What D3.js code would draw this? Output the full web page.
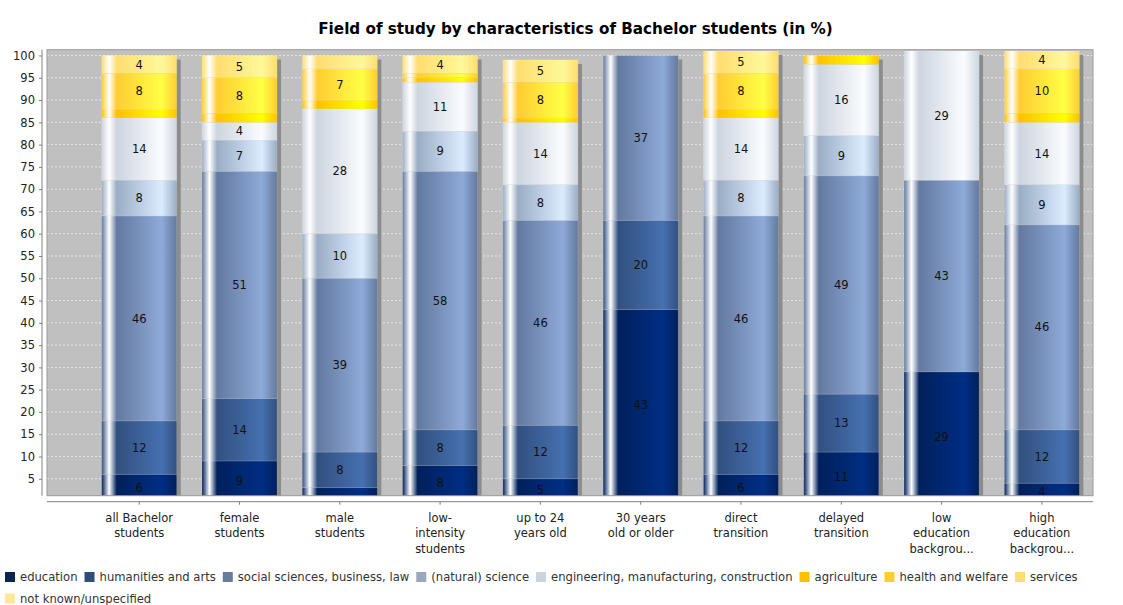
<!DOCTYPE html>
<html><head><meta charset="utf-8">
<script src="https://cdn.jsdelivr.net/npm/d3@7"></script>
<style>body{margin:0;background:#fff;} svg{display:block;font-family:"DejaVu Sans",sans-serif;}</style>
</head><body><svg id="c" width="1123" height="605"></svg>
<script>
const title = "Field of study by characteristics of Bachelor students (in %)";
const categories = ["all Bachelor students","female students","male students","low-intensity students","up to 24 years old","30 years old or older","direct transition","delayed transition","low education background","high education background"];
const categoryLabels = [["all Bachelor","students"],["female","students"],["male","students"],["low-","intensity","students"],["up to 24","years old"],["30 years","old or older"],["direct","transition"],["delayed","transition"],["low","education","backgrou..."],["high","education","backgrou..."]];
const seriesNames = ["education","humanities and arts","social sciences, business, law","(natural) science","engineering, manufacturing, construction","agriculture","health and welfare","services","not known/unspecified"];
const education   = [6, 9, 3, 8, 5, 43, 6, 11, 29, 4];
const humanities  = [12,14, 8, 8,12, 20,12, 13,  0,12];
const social      = [46,51,39,58,46, 37,46, 49, 43,46];
const natural     = [8, 7,10, 9, 8,  0, 8,  9,  0, 9];
const engineering = [14, 4,28,11,14, 0,14, 16, 29,14];
const agriculture = [2, 2, 2, 1, 1,  0, 2,  2,  0, 2];
const health      = [8, 8, 7, 1, 8,  0, 8,  0,  0,10];
const services    = [4, 5, 3, 4, 5,  0, 5,  0,  0, 4];
const notKnown    = [0, 0, 0, 0, 0,  0, 0,  0,  0, 0];
const yTicks = [5,10,15,20,25,30,35,40,45,50,55,60,65,70,75,80,85,90,95,100];

const seriesValues = [education,humanities,social,natural,engineering,agriculture,health,services,notKnown];
const baseColors = ["#00205b","#31507f","#63799f","#9aadc4","#cdd5df","#ffc000","#ffcc33","#ffdd70","#ffe699"];
const brightColors = ["#002e84","#4670b0","#8eaad8","#dcecff","#fafcff","#ffff00","#ffff44","#fff899","#ffffc0"];
const legendColors = ["#0d2350","#2f4d78","#677b9b","#9aa8bb","#cbd3dd","#ffc000","#ffcc33","#ffdd70","#ffe699"];

const W = 1123, H = 605;
const plot = {x0:47, x1:1093, y0:49.7, y1:495.7};
const svg = d3.select("#c");

const rows = categories.map((c,i)=>{const r={cat:c}; seriesNames.forEach((s,j)=>r[s]=seriesValues[j][i]); return r;});
const stacked = d3.stack().keys(seriesNames)(rows);

const x = d3.scaleBand().domain(categories).range([101.7, 1079.4]).paddingInner(0.252).paddingOuter(0);
const y = d3.scaleLinear().domain([1.2, 101.3]).range([plot.y1, plot.y0]);

const defs = svg.append("defs");
defs.append("clipPath").attr("id","pc").append("rect")
  .attr("x",plot.x0).attr("y",plot.y0).attr("width",plot.x1-plot.x0).attr("height",plot.y1-plot.y0);
seriesNames.forEach((s,j)=>{
  const g = defs.append("linearGradient").attr("id","g"+j).attr("x1","0").attr("x2","1").attr("y1","0").attr("y2","0");
  [[0,baseColors[j]],[0.1,"#ffffff"],[0.2,baseColors[j]],[0.8,brightColors[j]],[1,baseColors[j]]]
    .forEach(([o,c])=>g.append("stop").attr("offset",o).attr("stop-color",c));
});

// title
svg.append("text").attr("x",575.5).attr("y",33.5).attr("text-anchor","middle")
  .attr("font-size","15.2px").attr("font-weight","bold").attr("fill","#000").text(title);

// plot background
svg.append("rect").attr("x",plot.x0).attr("y",plot.y0).attr("width",plot.x1-plot.x0).attr("height",plot.y1-plot.y0).attr("fill","#c0c0c0");

// gridlines
svg.append("g").selectAll("line").data(yTicks).join("line")
  .attr("x1",plot.x0).attr("x2",plot.x1).attr("y1",d=>y(d)).attr("y2",d=>y(d))
  .attr("stroke","#ffffff").attr("stroke-width",0.6).attr("stroke-dasharray","2,2");

const gp = svg.append("g").attr("clip-path","url(#pc)");
// shadows
const totals = rows.map(r=>d3.sum(seriesNames,s=>r[s]));
gp.append("g").selectAll("rect").data(categories).join("rect")
  .attr("x",d=>x(d)+4).attr("width",x.bandwidth())
  .attr("y",(d,i)=>y(totals[i])+4).attr("height",(d,i)=>y(0)-y(totals[i]))
  .attr("fill","#8c8c8c");
// bars
stacked.forEach((layer,j)=>{
  gp.append("g").selectAll("rect").data(layer.filter(d=>d[1]-d[0]>0)).join("rect")
    .attr("x",d=>x(d.data.cat)).attr("width",x.bandwidth())
    .attr("y",d=>y(d[1])).attr("height",d=>y(d[0])-y(d[1]))
    .attr("fill","url(#g"+j+")")
    .attr("stroke","rgba(255,255,255,0.18)").attr("stroke-width",0.8);
});
// labels
stacked.forEach((layer,j)=>{
  svg.append("g").selectAll("text").data(layer.filter(d=>d[1]-d[0]>=4)).join("text")
    .attr("x",d=>x(d.data.cat)+x.bandwidth()/2)
    .attr("y",d=>(y(d[0])+y(d[1]))/2).attr("dy","0.36em")
    .attr("text-anchor","middle").attr("font-size","11.5px").attr("fill","#111")
    .text(d=>d[1]-d[0]);
});

// plot outline
svg.append("rect").attr("x",plot.x0).attr("y",plot.y0).attr("width",plot.x1-plot.x0).attr("height",plot.y1-plot.y0)
  .attr("fill","none").attr("stroke","#9a9a9a").attr("stroke-width",1);

// y axis
const yAxis = d3.axisLeft(y).tickValues(yTicks).tickSize(3).tickPadding(4);
const ya = svg.append("g").attr("transform","translate(42,0)").call(yAxis);
ya.select(".domain").attr("stroke","#808080").attr("d",`M0,${plot.y0}V${plot.y1}`);
ya.selectAll(".tick line").attr("stroke","#808080");
ya.selectAll("text").attr("font-size","11.5px").attr("font-family","DejaVu Sans").attr("fill","#222");

// x axis
const xAxis = d3.axisBottom(x).tickSize(3).tickFormat("");
const xa = svg.append("g").attr("transform","translate(0,501.7)").call(xAxis);
xa.select(".domain").attr("stroke","#808080").attr("d",`M${plot.x0},0H${plot.x1}`);
xa.selectAll(".tick line").attr("stroke","#808080");
const xl = svg.append("g");
categories.forEach((c,i)=>{
  const t = xl.append("text").attr("x",x(c)+x.bandwidth()/2).attr("y",521.5)
    .attr("text-anchor","middle").attr("font-size","11.5px").attr("fill","#222");
  categoryLabels[i].forEach((ln,k)=>t.append("tspan").attr("x",x(c)+x.bandwidth()/2).attr("dy",k?15.5:0).text(ln));
});

// legend
const lg = svg.append("g");
let lx = 5, ly = 577;
seriesNames.forEach((s,j)=>{
  const it = lg.append("g");
  it.append("rect").attr("x",0).attr("y",-5).attr("width",10).attr("height",10).attr("fill",legendColors[j]);
  const t = it.append("text").attr("x",15).attr("y",0).attr("dy","0.36em").attr("font-size","11.6px").attr("fill","#333").text(s);
  const w = 15 + t.node().getComputedTextLength();
  if (lx + w > W - 4) { lx = 5; ly += 21.5; }
  it.attr("transform",`translate(${lx},${ly})`);
  lx += w + 7;
});
</script></body></html>
